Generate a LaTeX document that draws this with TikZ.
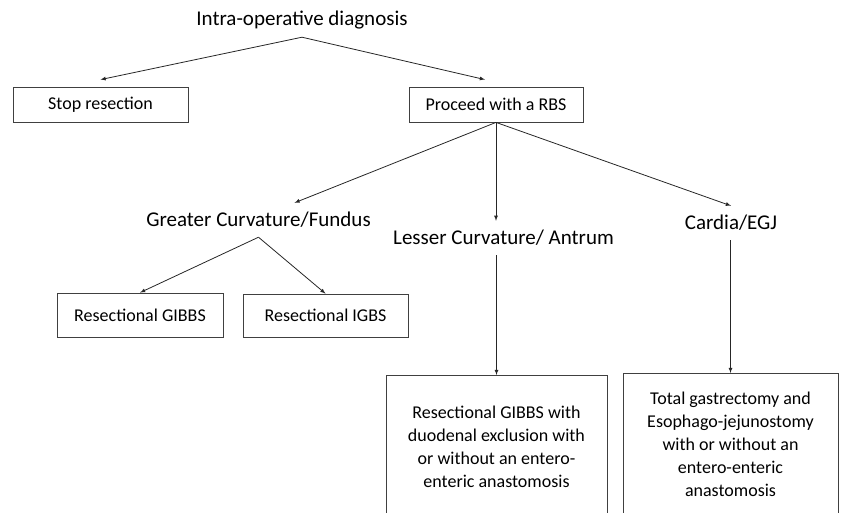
\documentclass[tikz,border=0pt]{standalone}
\usepackage{fontspec}
\setmainfont{Carlito}
\usepackage{tikz}

\begin{document}
\begin{tikzpicture}[x = 1pt, y = -1pt,
  box/.style = {draw = black!75, line width = .8pt, inner sep = 0pt, align = center,
    font = \fontsize{18}{23}\selectfont},
  site/.style = {inner sep = 0pt, minimum height = 34pt, font = \fontsize{21}{25}\selectfont}]
  \clip (0, 0) rectangle (842, 512);
  \node[site] at (302, 20) (diag) {Intra-operative diagnosis};
  \node[box, minimum width = 175pt, minimum height = 35pt] at (100.5, 104.5) (stop) {Stop resection};
  \node[box, minimum width = 174pt, minimum height = 35pt] at (496, 104.5) (rbs) {Proceed with a RBS};
  \node[site] at (258.5, 220) (greater) {Greater Curvature/Fundus};
  \node[site] at (503.5, 238) (lesser) {Lesser Curvature/ Antrum};
  \node[site] at (731, 223) (cardia) {Cardia/EGJ};
  \node[box, minimum width = 166pt, minimum height = 44pt] at (140, 315) (gibbs) {Resectional GIBBS};
  \node[box, minimum width = 165pt, minimum height = 43pt] at (325.5, 315.5) (igbs) {Resectional IGBS};
  \node[box, anchor = north, minimum width = 221pt, minimum height = 143pt] at (496.5, 375) (excl)
    {Resectional GIBBS with\\duodenal exclusion with\\or without an entero-\\enteric anastomosis};
  \node[box, anchor = north, minimum width = 215pt, minimum height = 142pt] at (730.5, 373) (total)
    {Total gastrectomy and\\Esophago-jejunostomy\\with or without an\\entero-enteric\\anastomosis};
  \draw[-latex, thick, black!85] (diag.south) -- ([yshift = 7pt]stop.north);
  \draw[-latex, thick, black!85] (diag.south) -- ([xshift = -11pt, yshift = 7pt]rbs.north);
  \draw[-latex, thick, black!85] (rbs.south) -- ([xshift = 36pt]greater.north);
  \draw[-latex, thick, black!85] (rbs.south) -- (rbs.south |- lesser.north);
  \draw[-latex, thick, black!85] (rbs.south) -- (cardia.north);
  \draw[-latex, thick, black!85] (greater.south) -- (gibbs.north);
  \draw[-latex, thick, black!85] (greater.south) -- (igbs.north);
  \draw[-latex, thick, black!85] (excl.north |- lesser.south) -- (excl.north);
  \draw[-latex, thick, black!85] (total.north |- cardia.south) -- (total.north);
\end{tikzpicture}
\end{document}
